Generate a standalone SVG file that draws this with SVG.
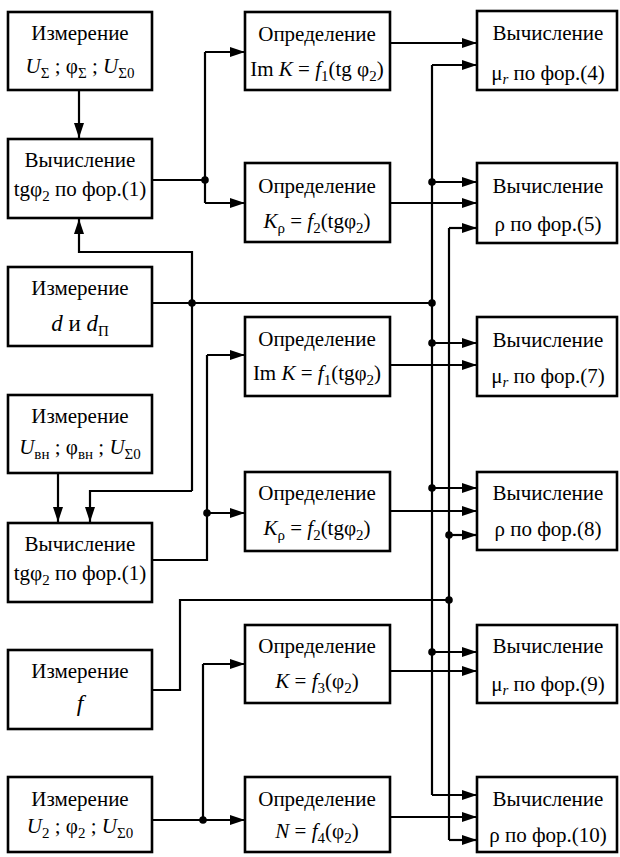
<svg xmlns="http://www.w3.org/2000/svg" width="620" height="857" viewBox="0 0 620 857">
<defs>
<marker id="arr" markerUnits="userSpaceOnUse" markerWidth="15" markerHeight="10" refX="15" refY="5" orient="auto"><path d="M0,0 L15,5 L0,10 z" fill="#000"/></marker>
</defs>
<rect width="620" height="857" fill="#fff"/>
<g id="conn" fill="none" stroke="#000" stroke-width="2.2">
<path marker-end="url(#arr)" d="M79,90 V138"/>
<path d="M152,180 H205"/>
<path d="M205,52 V203"/>
<path marker-end="url(#arr)" d="M205,52 H245"/>
<path marker-end="url(#arr)" d="M205,203 H245"/>
<path marker-end="url(#arr)" d="M390,43 H477"/>
<path marker-end="url(#arr)" d="M390,203 H477"/>
<path d="M432,65 V795"/>
<path marker-end="url(#arr)" d="M432,65 H477"/>
<path marker-end="url(#arr)" d="M432,182 H477"/>
<path marker-end="url(#arr)" d="M432,343 H477"/>
<path marker-end="url(#arr)" d="M432,488 H477"/>
<path marker-end="url(#arr)" d="M432,652 H477"/>
<path marker-end="url(#arr)" d="M432,795 H477"/>
<path d="M449,228 V840"/>
<path marker-end="url(#arr)" d="M449,228 H477"/>
<path marker-end="url(#arr)" d="M449,535 H477"/>
<path marker-end="url(#arr)" d="M449,840 H477"/>
<path d="M152,303 H432"/>
<path marker-end="url(#arr)" d="M192,491 V252 H79 V219"/>
<path marker-end="url(#arr)" d="M192,491 H90 V522"/>
<path marker-end="url(#arr)" d="M58,473 V522"/>
<path d="M152,560 H207 V355"/>
<path marker-end="url(#arr)" d="M207,355 H245"/>
<path marker-end="url(#arr)" d="M207,513 H245"/>
<path marker-end="url(#arr)" d="M390,365 H477"/>
<path marker-end="url(#arr)" d="M390,511 H477"/>
<path d="M152,690 H180 V600 H449"/>
<path d="M152,820 H203 V664"/>
<path marker-end="url(#arr)" d="M203,664 H245"/>
<path marker-end="url(#arr)" d="M203,820 H245"/>
<path marker-end="url(#arr)" d="M390,671 H477"/>
<path marker-end="url(#arr)" d="M390,817 H477"/>
<g fill="#000" stroke="none">
<circle cx="205" cy="180" r="3.8"/>
<circle cx="432" cy="182" r="3.8"/>
<circle cx="192" cy="303" r="3.8"/>
<circle cx="432" cy="303" r="3.8"/>
<circle cx="432" cy="343" r="3.8"/>
<circle cx="432" cy="488" r="3.8"/>
<circle cx="432" cy="652" r="3.8"/>
<circle cx="449" cy="535" r="3.8"/>
<circle cx="449" cy="600" r="3.8"/>
<circle cx="207" cy="513" r="3.8"/>
<circle cx="203" cy="820" r="3.8"/>
</g>
</g>
<g id="nodes" font-family="Times New Roman" font-size="21" text-anchor="middle">
<g id="L1"><rect x="8" y="12" width="144" height="78" fill="#fff" stroke="#000" stroke-width="2.6"/>
<text x="80" y="40" font-family="Times New Roman">Измерение</text>
<text x="80" y="73" font-family="Times New Roman"><tspan font-style="italic">U</tspan><tspan font-size="15" dy="5">Σ</tspan><tspan dy="-5"> ; φ</tspan><tspan font-size="15" dy="5">Σ</tspan><tspan dy="-5"> ; </tspan><tspan font-style="italic">U</tspan><tspan font-size="15" dy="5">Σ0</tspan></text></g>
<g id="L2"><rect x="8" y="139" width="144" height="79" fill="#fff" stroke="#000" stroke-width="2.6"/>
<text x="80" y="167" font-family="Times New Roman">Вычисление</text>
<text x="80" y="196" font-family="Times New Roman">tgφ<tspan font-size="15" dy="5">2</tspan><tspan dy="-5"> по фор.(1)</tspan></text></g>
<g id="L3"><rect x="8" y="267" width="144" height="79" fill="#fff" stroke="#000" stroke-width="2.6"/>
<text x="80" y="295" font-family="Times New Roman">Измерение</text>
<text x="80" y="331" font-family="Times New Roman" font-size="23"><tspan font-style="italic">d</tspan> и <tspan font-style="italic">d</tspan><tspan font-size="15" dy="5">П</tspan></text></g>
<g id="L4"><rect x="8" y="395" width="144" height="78" fill="#fff" stroke="#000" stroke-width="2.6"/>
<text x="80" y="423" font-family="Times New Roman">Измерение</text>
<text x="80" y="454" font-family="Times New Roman"><tspan font-style="italic">U</tspan><tspan font-size="15" dy="5">вн</tspan><tspan dy="-5"> ; φ</tspan><tspan font-size="15" dy="5">вн</tspan><tspan dy="-5"> ; </tspan><tspan font-style="italic">U</tspan><tspan font-size="15" dy="5">Σ0</tspan></text></g>
<g id="L5"><rect x="8" y="523" width="144" height="79" fill="#fff" stroke="#000" stroke-width="2.6"/>
<text x="80" y="551" font-family="Times New Roman">Вычисление</text>
<text x="80" y="580" font-family="Times New Roman">tgφ<tspan font-size="15" dy="5">2</tspan><tspan dy="-5"> по фор.(1)</tspan></text></g>
<g id="L6"><rect x="8" y="650" width="144" height="79" fill="#fff" stroke="#000" stroke-width="2.6"/>
<text x="80" y="678" font-family="Times New Roman">Измерение</text>
<text x="80" y="711" font-family="Times New Roman" font-style="italic" font-size="24">f</text></g>
<g id="L7"><rect x="8" y="777" width="144" height="75" fill="#fff" stroke="#000" stroke-width="2.6"/>
<text x="80" y="806" font-family="Times New Roman">Измерение</text>
<text x="80" y="833" font-family="Times New Roman"><tspan font-style="italic">U</tspan><tspan font-size="15" dy="5">2</tspan><tspan dy="-5"> ; φ</tspan><tspan font-size="15" dy="5">2</tspan><tspan dy="-5"> ; </tspan><tspan font-style="italic">U</tspan><tspan font-size="15" dy="5">Σ0</tspan></text></g>
<g id="M1"><rect x="245" y="12" width="145" height="78" fill="#fff" stroke="#000" stroke-width="2.6"/>
<text x="317" y="41" font-family="Times New Roman">Определение</text>
<text x="317" y="76" font-family="Times New Roman">Im <tspan font-style="italic">K</tspan> = <tspan font-style="italic">f</tspan><tspan font-size="15" dy="5">1</tspan><tspan dy="-5">(tg φ</tspan><tspan font-size="15" dy="5">2</tspan><tspan dy="-5">)</tspan></text></g>
<g id="M2"><rect x="245" y="163" width="145" height="79" fill="#fff" stroke="#000" stroke-width="2.6"/>
<text x="317" y="193" font-family="Times New Roman">Определение</text>
<text x="317" y="228" font-family="Times New Roman"><tspan font-style="italic">K</tspan><tspan font-size="15" dy="5">ρ</tspan><tspan dy="-5"> = </tspan><tspan font-style="italic">f</tspan><tspan font-size="15" dy="5">2</tspan><tspan dy="-5">(tgφ</tspan><tspan font-size="15" dy="5">2</tspan><tspan dy="-5">)</tspan></text></g>
<g id="M3"><rect x="245" y="317" width="145" height="79" fill="#fff" stroke="#000" stroke-width="2.6"/>
<text x="317" y="346" font-family="Times New Roman">Определение</text>
<text x="317" y="380" font-family="Times New Roman">Im <tspan font-style="italic">K</tspan> = <tspan font-style="italic">f</tspan><tspan font-size="15" dy="5">1</tspan><tspan dy="-5">(tgφ</tspan><tspan font-size="15" dy="5">2</tspan><tspan dy="-5">)</tspan></text></g>
<g id="M4"><rect x="245" y="472" width="145" height="79" fill="#fff" stroke="#000" stroke-width="2.6"/>
<text x="317" y="500" font-family="Times New Roman">Определение</text>
<text x="317" y="535" font-family="Times New Roman"><tspan font-style="italic">K</tspan><tspan font-size="15" dy="5">ρ</tspan><tspan dy="-5"> = </tspan><tspan font-style="italic">f</tspan><tspan font-size="15" dy="5">2</tspan><tspan dy="-5">(tgφ</tspan><tspan font-size="15" dy="5">2</tspan><tspan dy="-5">)</tspan></text></g>
<g id="M5"><rect x="245" y="625" width="145" height="78" fill="#fff" stroke="#000" stroke-width="2.6"/>
<text x="317" y="653" font-family="Times New Roman">Определение</text>
<text x="317" y="688" font-family="Times New Roman"><tspan font-style="italic">K</tspan> = <tspan font-style="italic">f</tspan><tspan font-size="15" dy="5">3</tspan><tspan dy="-5">(φ</tspan><tspan font-size="15" dy="5">2</tspan><tspan dy="-5">)</tspan></text></g>
<g id="M6"><rect x="245" y="777" width="145" height="75" fill="#fff" stroke="#000" stroke-width="2.6"/>
<text x="317" y="806" font-family="Times New Roman">Определение</text>
<text x="317" y="838" font-family="Times New Roman"><tspan font-style="italic">N</tspan> = <tspan font-style="italic">f</tspan><tspan font-size="15" dy="5">4</tspan><tspan dy="-5">(φ</tspan><tspan font-size="15" dy="5">2</tspan><tspan dy="-5">)</tspan></text></g>
<g id="R1"><rect x="477" y="11" width="140" height="79" fill="#fff" stroke="#000" stroke-width="2.6"/>
<text x="548" y="40" font-family="Times New Roman">Вычисление</text>
<text x="548" y="80" font-family="Times New Roman">μ<tspan font-style="italic" font-size="15" dy="4">r</tspan><tspan dy="-4">  по фор.(4)</tspan></text></g>
<g id="R2"><rect x="477" y="163" width="140" height="80" fill="#fff" stroke="#000" stroke-width="2.6"/>
<text x="548" y="193" font-family="Times New Roman">Вычисление</text>
<text x="548" y="231" font-family="Times New Roman">ρ по фор.(5)</text></g>
<g id="R3"><rect x="477" y="317" width="140" height="79" fill="#fff" stroke="#000" stroke-width="2.6"/>
<text x="548" y="347" font-family="Times New Roman">Вычисление</text>
<text x="548" y="383" font-family="Times New Roman">μ<tspan font-style="italic" font-size="15" dy="4">r</tspan><tspan dy="-4">  по фор.(7)</tspan></text></g>
<g id="R4"><rect x="477" y="472" width="140" height="78" fill="#fff" stroke="#000" stroke-width="2.6"/>
<text x="548" y="500" font-family="Times New Roman">Вычисление</text>
<text x="548" y="536" font-family="Times New Roman">ρ по фор.(8)</text></g>
<g id="R5"><rect x="477" y="625" width="140" height="78" fill="#fff" stroke="#000" stroke-width="2.6"/>
<text x="548" y="653" font-family="Times New Roman">Вычисление</text>
<text x="548" y="691" font-family="Times New Roman">μ<tspan font-style="italic" font-size="15" dy="4">r</tspan><tspan dy="-4">  по фор.(9)</tspan></text></g>
<g id="R6"><rect x="477" y="777" width="140" height="75" fill="#fff" stroke="#000" stroke-width="2.6"/>
<text x="548" y="806" font-family="Times New Roman">Вычисление</text>
<text x="548" y="842" font-family="Times New Roman">ρ по фор.(10)</text></g>
</g>
</svg>
